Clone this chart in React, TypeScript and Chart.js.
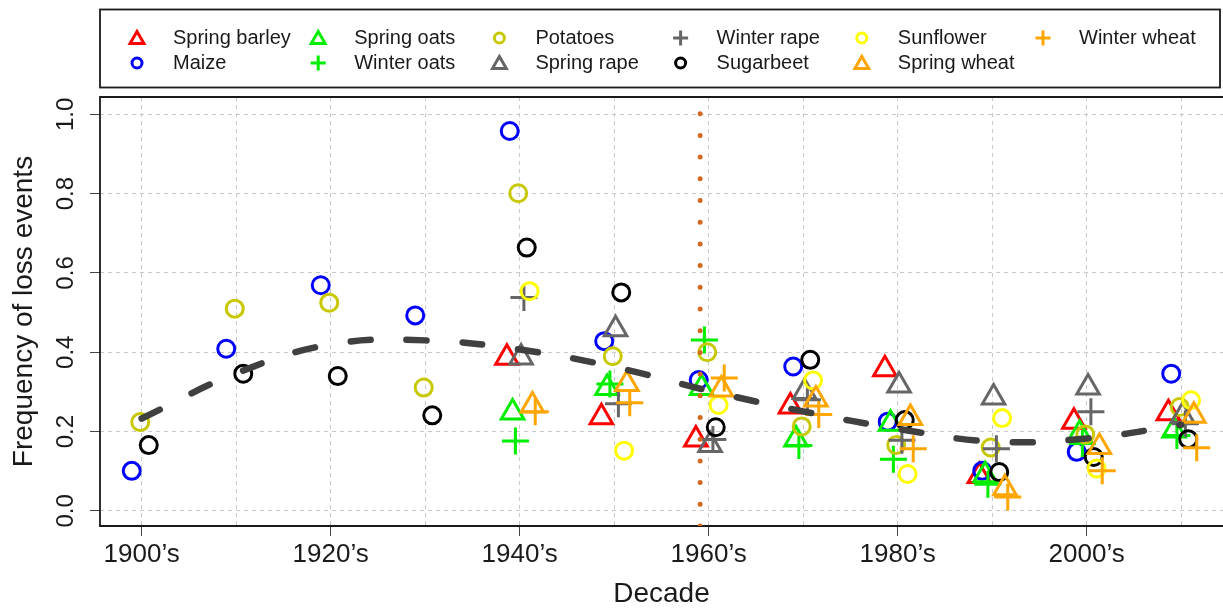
import React, { useEffect, useRef } from 'react';
import { Chart, registerables } from 'chart.js';
import { drawPoint } from 'chart.js/helpers';

Chart.register(...registerables);

// ---------- data ----------
const decades = [1900, 1910, 1920, 1930, 1940, 1950, 1960, 1970, 1980, 1990, 2000, 2010];
const xLabelDecades = [1900, 1920, 1940, 1960, 1980, 2000];
const yTickValues = [0, 0.2, 0.4, 0.6, 0.8, 1.0];

const crops = ['Spring barley', 'Maize', 'Spring oats', 'Winter oats', 'Potatoes', 'Spring rape',
  'Winter rape', 'Sugarbeet', 'Sunflower', 'Spring wheat', 'Winter wheat'];
const cropColors = ['#FF0000', '#0000FF', '#00EE00', '#00EE00', '#C8C800', '#666666',
  '#666666', '#000000', '#FFFF00', '#FFA500', '#FFA500'];
const cropMarkers = ['triangle', 'circle', 'triangle', 'cross', 'circle', 'triangle',
  'cross', 'circle', 'circle', 'triangle', 'cross'];
// horizontal jitter (years) applied to each crop within a decade
const cropOffsets = [-1.35, -1.05, -0.75, -0.45, -0.15, 0.15, 0.45, 0.75, 1.05, 1.35, 1.65];

const springBarley = [null, null, null, null, 0.386, 0.236, 0.180, 0.263, 0.357, 0.088, 0.225, 0.246];
const maize = [0.101, 0.409, 0.569, 0.493, 0.958, 0.428, 0.330, 0.364, 0.225, 0.101, 0.149, 0.346];
const springOats = [null, null, null, null, 0.248, 0.310, 0.310, 0.180, 0.220, 0.090, 0.194, 0.203];
const winterOats = [null, null, null, null, 0.176, 0.320, 0.431, 0.165, 0.130, 0.067, 0.170, 0.190];
const potatoes = [0.224, 0.510, 0.525, 0.311, 0.801, 0.390, 0.400, 0.213, 0.166, 0.160, 0.193, 0.262];
const springRape = [null, null, null, null, 0.387, 0.458, 0.166, 0.300, 0.316, 0.286, 0.311, 0.240];
const winterRape = [null, null, null, null, 0.538, 0.270, 0.180, 0.280, 0.178, 0.157, 0.250, 0.220];
const sugarbeet = [0.166, 0.346, 0.340, 0.241, 0.664, 0.551, 0.211, 0.381, 0.229, 0.098, 0.136, 0.181];
const sunflower = [null, null, null, null, 0.554, 0.152, 0.267, 0.329, 0.093, 0.234, 0.107, 0.279];
const springWheat = [null, null, null, null, 0.266, 0.320, 0.306, 0.281, 0.234, 0.057, 0.161, 0.240];
const winterWheat = [null, null, null, null, 0.250, 0.273, 0.335, 0.243, 0.157, 0.035, 0.101, 0.159];

const cropValues = [springBarley, maize, springOats, winterOats, potatoes, springRape,
  winterRape, sugarbeet, sunflower, springWheat, winterWheat];

// smoothed overall trend
const trendValues = [0.233, 0.347, 0.420, 0.430, 0.407, 0.363, 0.303, 0.251, 0.207, 0.175, 0.1825, 0.217];

// vertical reference line
const vlineYear = 1959.1;

// ---------- styling ----------
const X_MIN = 1895.59;
const X_MAX = 2014.43;
const Y_MIN = -0.038;
const Y_MAX = 1.0436;
const FONT = '"Liberation Sans", Arial, Helvetica, sans-serif';
const TEXT = '#1a1a1a';

const markerRadius: Record<string, number> = { circle: 8.5, triangle: 13, cross: 13.5 };
const legendRadius: Record<string, number> = { circle: 5, triangle: 8, cross: 7.5 };

const framePlugin = {
  id: 'frame',
  beforeDatasetsDraw(chart: any) {
    const { ctx, chartArea: a } = chart;
    ctx.save();
    ctx.strokeStyle = TEXT;
    ctx.lineWidth = 1.8;
    ctx.beginPath();
    ctx.moveTo(a.right + 5, a.top);
    ctx.lineTo(a.left, a.top);
    ctx.lineTo(a.left, a.bottom);
    ctx.lineTo(a.right + 5, a.bottom);
    ctx.stroke();
    ctx.restore();
  },
};

const legendPlugin = {
  id: 'cropLegend',
  afterDraw(chart: any) {
    const ctx = chart.ctx;
    ctx.save();
    ctx.strokeStyle = TEXT;
    ctx.lineWidth = 1.8;
    ctx.strokeRect(100, 9.5, 1120, 78);
    ctx.font = `20px ${FONT}`;
    ctx.textBaseline = 'middle';
    ctx.textAlign = 'left';
    crops.forEach((name, i) => {
      const col = Math.floor(i / 2);
      const row = i % 2;
      const sx = 137 + col * 181.2;
      const sy = 38 + row * 25;
      const style = cropMarkers[i];
      ctx.strokeStyle = cropColors[i];
      ctx.fillStyle = 'rgba(0,0,0,0)';
      ctx.lineWidth = 3;
      drawPoint(ctx, { pointStyle: style, rotation: 0, radius: legendRadius[style], borderWidth: 3 } as any,
        sx, style === 'triangle' ? sy + 1.5 : sy);
      ctx.fillStyle = TEXT;
      ctx.fillText(name, sx + 36, sy);
    });
    ctx.restore();
  },
};

export default function App() {
  const canvasRef = useRef<HTMLCanvasElement | null>(null);

  useEffect(() => {
    const canvas = canvasRef.current;
    if (!canvas) return;

    const cropDatasets = crops.map((name, i) => {
      const vals = cropValues[i];
      const data = decades
        .map((d, j) => (vals[j] == null ? null : { x: d + cropOffsets[i], y: vals[j] as number }))
        .filter((p) => p !== null);
      const style = cropMarkers[i];
      return {
        type: 'scatter' as const,
        label: name,
        data,
        pointStyle: style,
        pointRadius: markerRadius[style],
        pointHoverRadius: markerRadius[style],
        pointBorderColor: cropColors[i],
        pointBackgroundColor: 'rgba(0,0,0,0)',
        pointBorderWidth: 3,
        showLine: false,
        order: 100 - i,
      };
    });

    const trendDataset = {
      type: 'line' as const,
      label: 'trend',
      data: decades.map((d, j) => ({ x: d, y: trendValues[j] })),
      borderColor: '#404040',
      borderWidth: 6.5,
      borderDash: [20, 36],
      borderCapStyle: 'round' as const,
      pointRadius: 0,
      tension: 0.4,
      fill: false,
      order: 2,
    };

    const vlineDataset = {
      type: 'line' as const,
      label: 'ref',
      data: [{ x: vlineYear, y: Y_MIN }, { x: vlineYear, y: Y_MAX }],
      borderColor: '#D2691E',
      borderWidth: 5,
      borderDash: [0, 21.7],
      borderCapStyle: 'round' as const,
      pointRadius: 0,
      fill: false,
      order: 1,
    };

    const chart = new Chart(canvas, {
      type: 'scatter',
      data: { datasets: [...cropDatasets, trendDataset, vlineDataset] as any },
      options: {
        responsive: false,
        animation: false,
        devicePixelRatio: 1,
        events: [],
        layout: { autoPadding: false, padding: { top: 97, left: 0, right: 0, bottom: 0 } },
        plugins: {
          legend: { display: false },
          tooltip: { enabled: false },
          title: { display: false },
        },
        scales: {
          x: {
            type: 'linear',
            position: 'bottom',
            min: X_MIN,
            max: X_MAX,
            afterBuildTicks: (scale: any) => {
              scale.ticks = decades.map((v) => ({ value: v }));
            },
            afterFit: (scale: any) => {
              scale.height = 86;
            },
            ticks: {
              autoSkip: false,
              maxRotation: 0,
              minRotation: 0,
              padding: 3,
              color: TEXT,
              font: { family: FONT, size: 26 },
              callback: (v: any) => (xLabelDecades.includes(Number(v)) ? `${v}\u2019s` : ''),
            },
            grid: {
              color: '#c8c8c8',
              lineWidth: 1,
              drawTicks: true,
              tickLength: 10,
              tickWidth: 1,
              tickColor: (c: any) => (c.tick && xLabelDecades.includes(c.tick.value) ? '#444' : 'rgba(0,0,0,0)'),
            },
            border: { display: false, dash: [4, 4] },
            title: {
              display: true,
              text: 'Decade',
              color: TEXT,
              font: { family: FONT, size: 28 },
              padding: { top: 0, bottom: 1 },
            },
          },
          y: {
            type: 'linear',
            position: 'left',
            min: Y_MIN,
            max: Y_MAX,
            afterBuildTicks: (scale: any) => {
              scale.ticks = yTickValues.map((v) => ({ value: v }));
            },
            afterFit: (scale: any) => {
              scale.width = 100;
            },
            ticks: {
              autoSkip: false,
              minRotation: 90,
              maxRotation: 90,
              crossAlign: 'center',
              padding: 7,
              color: TEXT,
              font: { family: FONT, size: 24 },
              callback: (v: any) => Number(v).toFixed(1),
            },
            grid: {
              color: '#c8c8c8',
              lineWidth: 1,
              drawTicks: true,
              tickLength: 10,
              tickWidth: 1,
              tickColor: '#444',
            },
            border: { display: false, dash: [4, 4] },
            title: {
              display: true,
              text: 'Frequency of loss events',
              color: TEXT,
              font: { family: FONT, size: 28 },
              padding: { top: 7, bottom: 0 },
            },
          },
        },
      },
      plugins: [framePlugin, legendPlugin],
    });

    return () => {
      chart.destroy();
    };
  }, []);

  return (
    <div style={{ position: 'fixed', left: 0, top: 0, width: 1223, height: 612, background: '#ffffff' }}>
      <canvas ref={canvasRef} width={1223} height={612} style={{ display: 'block' }} />
    </div>
  );
}
